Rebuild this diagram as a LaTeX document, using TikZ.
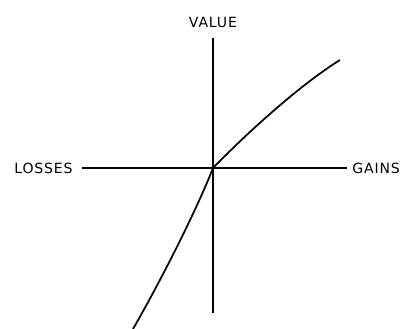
\documentclass[tikz,border=0pt]{standalone}
\usepackage{fontspec}
\newfontfamily\axisfont{DejaVu Sans}[LetterSpace=6]
\usepackage{tikz}
\usetikzlibrary{arrows.meta}

\begin{document}
\begin{tikzpicture}[lbl/.style = {font=\axisfont\fontsize{8}{9}\selectfont, inner sep=0pt}, axis/.style = {line width=1.1pt}, curve/.style = {line width=1pt}]
                \useasboundingbox (-4.26,-3.22) rectangle (3.82,3.36);
                \node[lbl, anchor=base] (value) at (0, 2.80) {VALUE};
                \node[lbl, anchor=east] (losses) at (-2.80, 0) {LOSSES};
                \node[lbl, anchor=west] (gains) at (2.78, 0) {GAINS};
                \coordinate (vbot) at (0, -2.90);
                \coordinate (o) at (0, 0);
                \coordinate (lo) at (-1.60, -3.22);
                \coordinate (hi) at (2.54, 2.16);
                \draw[axis, shorten <=0.18cm, shorten >=0.10cm] (losses) -- (gains);
                \draw[axis, shorten <=0.18cm] (value) -- (vbot);
                \draw[curve] (lo) .. controls (-0.9, -2.0) and (-0.25, -0.65) .. (o) .. controls (0.8, 0.82) and (1.8, 1.7) .. (hi);
            \end{tikzpicture}
\end{document}
